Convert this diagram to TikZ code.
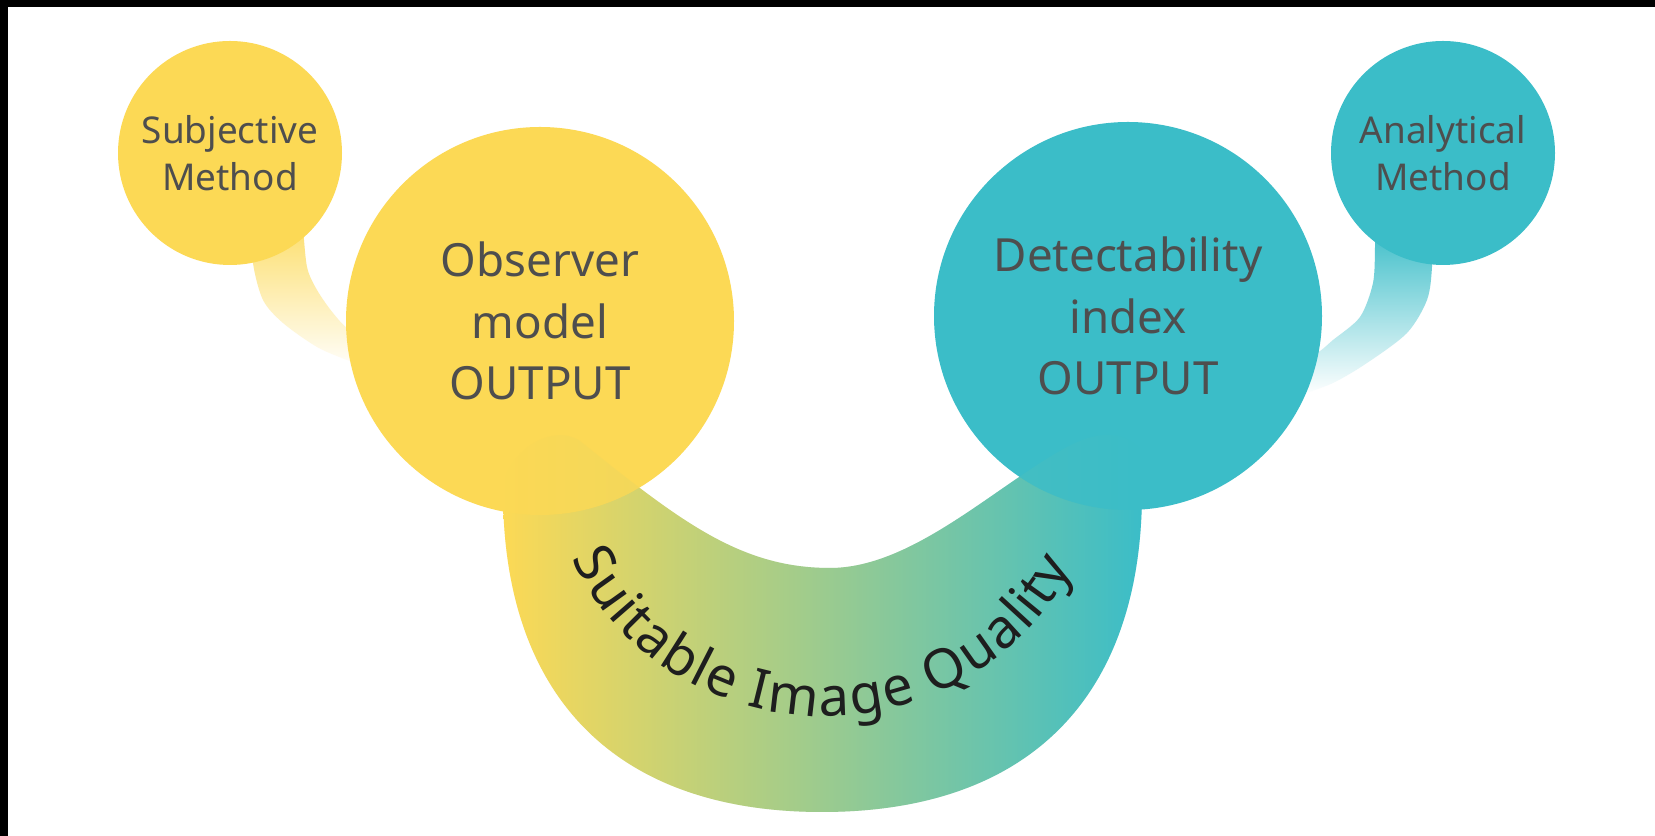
\documentclass[tikz,border=0pt]{standalone}
\usepackage{fontspec}
\setmainfont{Noto Sans}
\usepackage{xcolor}
\usepackage{tikz}
\usetikzlibrary{decorations.text}
\definecolor{sunny}{HTML}{FCD955}
\definecolor{lagoon}{HTML}{3BBDC8}
\definecolor{bandmid}{HTML}{D1E0A0}
\definecolor{ink}{HTML}{4E4E4E}
\definecolor{arcink}{HTML}{1E1E1E}
% outline of the bowl, used twice
\newcommand{\bowl}{(10.06,6.9) .. controls (10.06,2.8) and (12.3,0.48) .. (16.44,0.48)
  .. controls (20.6,0.48) and (22.84,2.8) .. (22.84,6.9) -- (22.84,7.7)
  .. controls (22.4,8.2) and (21.8,8.05) .. (21.2,7.7)
  .. controls (19.8,6.9) and (18.2,5.36) .. (16.6,5.36)
  .. controls (14.8,5.36) and (13.6,6.3) .. (11.6,7.9)
  .. controls (11.0,8.3) and (10.06,7.6) .. (10.06,6.9) -- cycle}
\tikzset{
  bigdisc/.style={circle, minimum size=7.76cm, inner sep=0pt, text=ink,
    align=center, font=\fontsize{26}{35}\selectfont},
  smalldisc/.style={circle, minimum size=4.48cm, inner sep=0pt, text=ink,
    align=center, font=\fontsize{21}{27}\selectfont},
  bowlfill/.style={left color=sunny, middle color=bandmid, right color=lagoon}
}

\begin{document}
\begin{tikzpicture}
  \useasboundingbox (0,0) rectangle (33.1,16.72);
  % frame
  \fill[black] (0,0) rectangle (33.1,16.72);
  \fill[white] (0.16,0) rectangle (33.1,16.58);

  % fading links from the small discs
  \shade[top color=sunny!85, bottom color=white]
    plot[smooth] coordinates {(5.06,12.2) (5.06,11.46) (5.26,10.72) (5.66,10.26) (6.34,9.78) (6.94,9.52) (7.6,9.28)}
    -- plot[smooth] coordinates {(7.6,9.92) (7.0,10.12) (6.66,10.46) (6.34,10.92) (6.14,11.38) (6.06,12.2)} -- cycle;
  \shade[top color=lagoon, bottom color=white]
    plot[smooth] coordinates {(27.5,12.2) (27.5,11.78) (27.46,11.06) (27.2,10.38) (26.66,9.92) (26.34,9.66) (25.8,9.42)}
    -- plot[smooth] coordinates {(26.0,8.82) (26.66,9.06) (27.34,9.46) (28.14,10.06) (28.54,10.72) (28.64,11.38) (28.64,12.2)} -- cycle;

  % the bowl under both outputs
  \shade[bowlfill] \bowl;

  \node[bigdisc, fill=sunny] (observer) at (10.8,10.3) {Observer\\model\\OUTPUT};
  \node[bigdisc, fill=lagoon] (detect) at (22.56,10.4) {Detectability\\index\\OUTPUT};
  \node[smalldisc, fill=sunny] (subjective) at (4.6,13.66) {Subjective\\Method};
  \node[smalldisc, fill=lagoon] (analytic) at (28.86,13.66) {Analytical\\Method};

  % faint bowl showing through the big discs
  \shade[bowlfill, opacity=0.22] \bowl;

  % curved caption, spread over the arc
  \coordinate (bend) at (16.48,7.7);
  \path[decorate, decoration={text effects along path, text={Suitable Image Quality},
      text effects/.cd, text along path, fit text to path,
      characters={text=arcink, font=\fontsize{31}{31}\selectfont}}]
    (bend) ++(204:5.52 and 5.3) arc[start angle=204, end angle=334, x radius=5.52, y radius=5.3];
\end{tikzpicture}
\end{document}
